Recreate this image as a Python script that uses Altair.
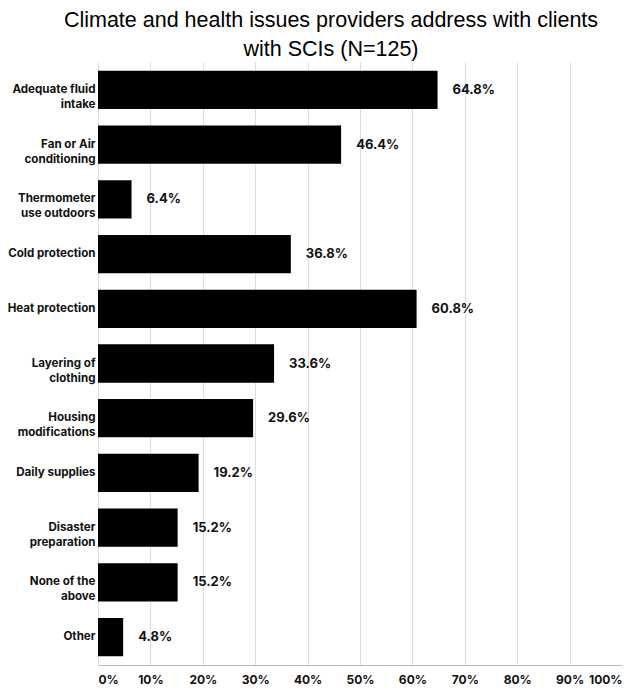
import altair as alt
import pandas as pd

categories = [
    "Adequate fluid\nintake",
    "Fan or Air\nconditioning",
    "Thermometer\nuse outdoors",
    "Cold protection",
    "Heat protection",
    "Layering of\nclothing",
    "Housing\nmodifications",
    "Daily supplies",
    "Disaster\npreparation",
    "None of the\nabove",
    "Other",
]
values = [64.8, 46.4, 6.4, 36.8, 60.8, 33.6, 29.6, 19.2, 15.2, 15.2, 4.8]
x_ticks = [0, 10, 20, 30, 40, 50, 60, 70, 80, 90, 100]

df = pd.DataFrame({"cat": categories, "val": values})
df["lab"] = df["val"].map(lambda v: f"{v:.1f}%")

FONT = "Inter"

y_enc = alt.Y(
    "cat:N",
    sort=categories,
    scale=alt.Scale(paddingInner=0.3, paddingOuter=0.16),
    axis=alt.Axis(
        title=None,
        ticks=False,
        domain=False,
        labelExpr="split(datum.label, '\\n')",
        labelFont=FONT,
        labelFontWeight="bold",
        labelFontSize=11.6,
        labelColor="#111",
        labelLineHeight=15,
        labelPadding=3,
    ),
)

x_enc = alt.X(
    "val:Q",
    scale=alt.Scale(domain=[0, 100], nice=False),
    axis=alt.Axis(
        title=None,
        values=x_ticks,
        labelExpr="datum.value + '%'",
        ticks=False,
        domainColor="#bbbbbb",
        gridColor="#dddddd",
        labelFont=FONT,
        labelFontWeight="bold",
        labelFontSize=12,
        labelColor="#111",
        labelPadding=9,
    ),
)

bars = alt.Chart(df).mark_bar(color="black").encode(x=x_enc, y=y_enc)
text = alt.Chart(df).mark_text(
    align="left", baseline="middle", dx=15, font=FONT, fontWeight="bold",
    fontSize=13, color="#111"
).encode(x=x_enc, y=y_enc, text="lab:N")

chart = (
    (bars + text)
    .properties(
        width=524,
        height=603,
        autosize=alt.AutoSizeParams(type="none"),
        padding={"left": 90, "top": 54, "right": 0, "bottom": 26},
        title=alt.Title(
            ["Climate and health issues providers address with clients", "with SCIs (N=125)"],
            font="Liberation Sans",
            fontSize=21.5,
            fontWeight="normal",
            lineHeight=29,
            color="#000",
            anchor="middle",
            frame="group",
            offset=2,
            dx=-29,
        ),
    )
    .configure_view(stroke=None)
)

chart.save("out.html", embed_options={"renderer": "svg", "actions": False})
